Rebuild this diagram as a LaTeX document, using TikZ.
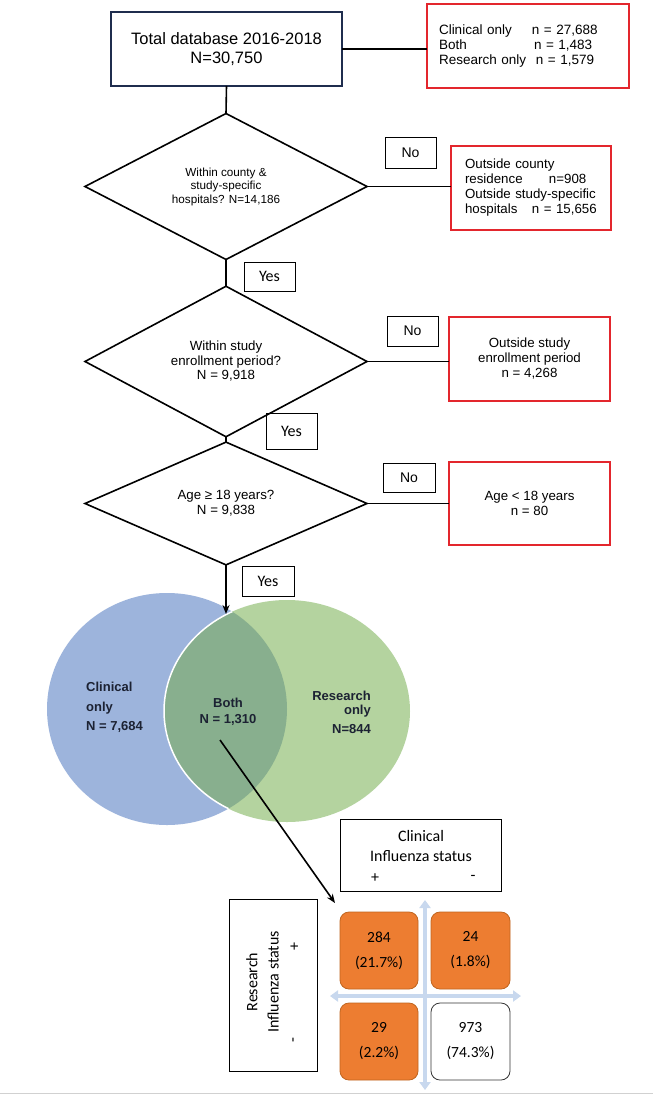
\documentclass[tikz,border=0pt]{standalone}
\usepackage{fontspec}
\setmainfont{Liberation Sans}
\newfontfamily\calib{Carlito}
\usetikzlibrary{shapes.geometric,arrows.meta}
\definecolor{navy}{HTML}{1F2D4E}
\definecolor{redb}{HTML}{E3262D}
\definecolor{vblue}{HTML}{9DB4DC}
\definecolor{vgreen}{HTML}{B4D39F}
\definecolor{vboth}{HTML}{88AF8E}
\definecolor{orangec}{HTML}{ED7D31}
\definecolor{orangeb}{HTML}{C0651F}
\definecolor{crossc}{HTML}{C8D8EE}
\definecolor{vtext}{HTML}{1C2233}
\begin{document}
\begin{tikzpicture}[x=1pt,y=-1pt,
  topbox/.style={draw=navy, line width=1.6pt, minimum width=231pt, minimum height=74pt, inner sep=0pt, outer sep=0pt, align=center, font=\fontsize{16.5}{18.3}\selectfont},
  redbox/.style={draw=redb, line width=1.8pt, inner sep=0pt, outer sep=0pt},
  decision/.style={diamond, draw, line width=1.6pt, inner sep=0pt, outer sep=0pt, minimum width=282pt, align=center},
  tagbox/.style={draw, line width=0.8pt, inner sep=0pt},
  flow/.style={line width=1.6pt},
  vlabel/.style={inner sep=0pt, text=vtext, font=\bfseries\fontsize{13}{19.5}\selectfont},
  cell/.style={rounded corners=9pt, line width=0.8pt, minimum width=78pt, minimum height=77pt, inner sep=0pt, align=center, font=\calib\fontsize{15.5}{25}\selectfont},
  mtext/.style={inner sep=0pt, align=center, font=\calib\fontsize{16}{20.5}\selectfont},
  crossarrow/.style={draw=crossc, line width=4pt, {Triangle[length=8pt,width=11pt]}-{Triangle[length=8pt,width=11pt]}}
]
\useasboundingbox (0,0) rectangle (656,1099);
\fill[white] (0,0) rectangle (656,1099);

% ---------- flowchart ----------
\node[topbox] (top) at (226.5,49) {Total database 2016-2018\\N=30,750};
\node[redbox, minimum width=202pt, minimum height=84pt, text width=178pt, align=left,
      font=\fontsize{13.5}{15}\selectfont] (r1) at (528,46)
  {\makebox[93pt][l]{Clinical only}n = 27,688\\
   \makebox[95pt][l]{Both}n = 1,483\\
   \makebox[97pt][l]{Research only}n = 1,579};

\node[decision, minimum height=141pt, font=\fontsize{11.7}{13.5}\selectfont] (d1) at (226,186.5)
  {Within county \&\\study-specific\\hospitals? N=14,186};
\node[redbox, minimum width=160pt, minimum height=84pt, text width=132pt, align=left,
      font=\fontsize{13.3}{15}\selectfont] (r2) at (531,188)
  {Outside county\\
   \makebox[84pt][l]{residence}n=908\\
   Outside study-specific\\
   \makebox[67pt][l]{hospitals}n = 15,656};

\node[decision, minimum height=127pt, font=\fontsize{13.3}{14.5}\selectfont] (d2) at (226,361.5)
  {Within study\\enrollment period?\\N = 9,918};
\node[redbox, minimum width=161pt, minimum height=84pt, align=center,
      font=\fontsize{13.3}{15}\selectfont] (r3) at (529.5,359)
  {Outside study\\enrollment period\\n = 4,268};

\node[decision, minimum height=109pt, font=\fontsize{13.3}{15}\selectfont] (d3) at (226,503.5)
  {Age ≥ 18 years?\\N = 9,838};
\node[redbox, minimum width=161pt, minimum height=83pt, align=center,
      font=\fontsize{13.3}{15}\selectfont] (r4) at (529.5,503.5)
  {Age < 18 years\\n = 80};

\node[tagbox, minimum width=51pt, minimum height=31pt, font=\fontsize{14}{16}\selectfont] (no1) at (410.5,152.5) {No};
\node[tagbox, minimum width=51pt, minimum height=30pt, font=\fontsize{14}{16}\selectfont] (no2) at (412.5,331) {No};
\node[tagbox, minimum width=52pt, minimum height=29pt, font=\fontsize{14}{16}\selectfont] (no3) at (409,477.5) {No};
\node[tagbox, minimum width=51pt, minimum height=29pt, font=\calib\fontsize{16}{18}\selectfont] (yes1) at (269.5,276.5) {Yes};
\node[tagbox, minimum width=51pt, minimum height=36pt, font=\calib\fontsize{16}{18}\selectfont] (yes2) at (291.5,431) {Yes};
\node[tagbox, minimum width=52pt, minimum height=30pt, font=\calib\fontsize{16}{18}\selectfont] (yes3) at (268,581) {Yes};

\draw[flow] (top.east) -- (top.east -| r1.west);
\draw[flow] (top.south) -- (d1.north);
\draw[flow] (d1.east) -- (d1.east -| r2.west);
\draw[flow] (d1.south) -- (d2.north);
\draw[flow] (d2.east) -- (d2.east -| r3.west);
\draw[flow] (d2.south) -- (d3.north);
\draw[flow] (d3.east) -- (d3.east -| r4.west);

% ---------- Venn ----------
\fill[vblue] (167,709) ellipse [x radius=120pt, y radius=116pt];
\fill[vgreen] (287,711) ellipse [x radius=123pt, y radius=111pt];
\begin{scope}
  \clip (167,709) ellipse [x radius=120pt, y radius=116pt];
  \fill[vboth] (287,711) ellipse [x radius=123pt, y radius=111pt];
  \draw[white, line width=1.5pt] (287,711) ellipse [x radius=123pt, y radius=111pt];
\end{scope}
\coordinate (vtop) at (226,614);
\draw[flow, -{Stealth[length=9pt,width=7pt]}] (d3.south) -- (vtop);

\node[vlabel, align=left, anchor=west] (clinonly) at (86,707.5) {Clinical\\only\\N = 7,684};
\node[vlabel, align=center, font=\bfseries\fontsize{13}{16}\selectfont] (both) at (228,712) {Both\\N = 1,310};
\node[vlabel, align=right, anchor=east, font=\bfseries\fontsize{13}{14}\selectfont] (resonly) at (371,712.5) {Research\\only\\[5pt]N=844};

% ---------- matrix ----------
\coordinate (vt) at (425,900); \coordinate (vb) at (425,1090);
\coordinate (hl) at (330,996); \coordinate (hr) at (521,996);
\draw[crossarrow] (vt) -- (vb);
\draw[crossarrow] (hl) -- (hr);

\node[draw, line width=0.8pt, minimum width=161pt, minimum height=72pt, inner sep=0pt] (clinbox) at (420.5,855) {};
\node[mtext] (clintext) at (421,846) {Clinical\\Influenza status};
\node[mtext] (cplus) at (375,878) {+};
\node[mtext] (cminus) at (473,878) {-};

\node[draw, line width=0.8pt, minimum width=88pt, minimum height=172pt, inner sep=0pt] (resbox) at (273,985) {};
\node[mtext, rotate=90, font=\calib\fontsize{16}{21}\selectfont] (restext) at (262.5,982) {Research\\Influenza status};
\node[mtext, rotate=90] (rplus) at (295,947) {+};
\node[mtext, rotate=90] (rminus) at (295,1040) {-};

\node[cell, fill=orangec, draw=orangeb] (c11) at (379,950.5) {284\\(21.7\%)};
\node[cell, fill=orangec, draw=orangeb, minimum width=79pt] (c12) at (470.5,950.5) {24\\(1.8\%)};
\node[cell, fill=orangec, draw=orangeb] (c21) at (379,1041.5) {29\\(2.2\%)};
\node[cell, fill=white, draw=black!80, minimum width=79pt] (c22) at (470.5,1041.5) {973\\(74.3\%)};

\coordinate (bothpt) at (220,740);
\coordinate (arrowend) at (335,903);
\draw[flow, -{Stealth[length=9pt,width=7pt]}] (bothpt) -- (arrowend);

\draw[black!18, line width=1pt] (0,1093) -- (653,1093);
\end{tikzpicture}
\end{document}
